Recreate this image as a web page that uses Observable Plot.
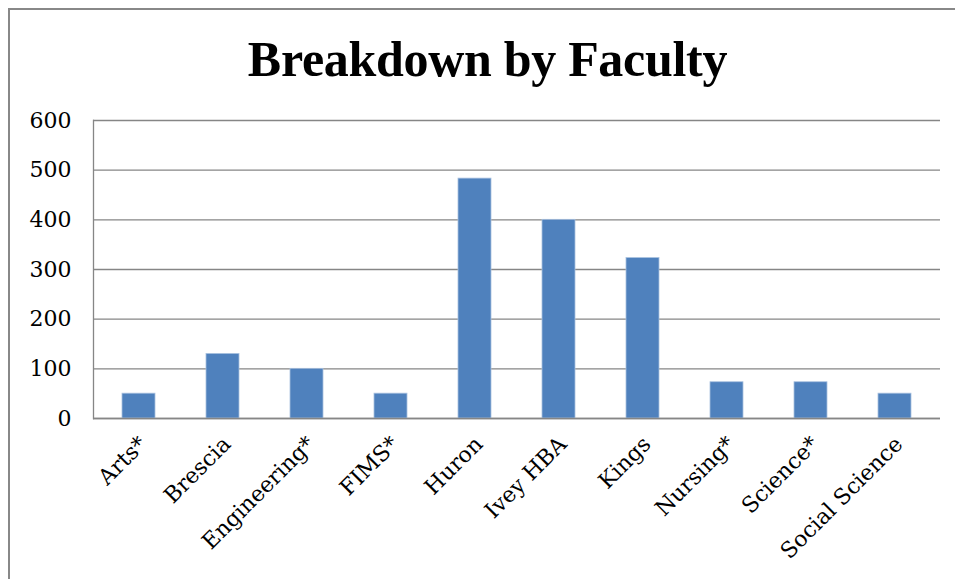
<!DOCTYPE html>
<html>
<head>
<meta charset="utf-8">
<script src="https://cdn.jsdelivr.net/npm/d3@7"></script>
<script src="https://cdn.jsdelivr.net/npm/@observablehq/plot@0.6"></script>
<style>
  html, body { margin: 0; padding: 0; background: #fff; }
  #chart {
    position: relative; width: 955px; height: 579px; overflow: hidden;
    background: #fff;
  }
  #border {
    position: absolute; left: 8px; top: 8px; width: 960px; height: 600px;
    border-left: 2px solid #888; border-top: 2px solid #888; box-sizing: border-box;
  }
  #title {
    position: relative; height: 100px; width: 955px; text-align: center;
    font-family: "Liberation Serif", serif; font-weight: bold; font-size: 50px;
    color: #000; padding-left: 20px; box-sizing: border-box;
    padding-top: 16px; line-height: 86px; letter-spacing: -0.3px;
  }
  #plot { position: relative; }
</style>
</head>
<body>
<div id="chart">
  <div id="border"></div>
  <div id="title">Breakdown by Faculty</div>
  <div id="plot"></div>
</div>
<script>
const categories = ["Arts*", "Brescia", "Engineering*", "FIMS*", "Huron", "Ivey HBA", "Kings", "Nursing*", "Science*", "Social Science"];
const counts = [50, 130, 100, 50, 483, 400, 323, 73, 73, 50];
const yTicks = [0, 100, 200, 300, 400, 500, 600];

const data = categories.map((c, i) => ({faculty: c, count: counts[i]}));

const plot = Plot.plot({
  width: 955,
  height: 479,
  marginTop: 20,
  marginBottom: 161,
  marginLeft: 93,
  marginRight: 15,
  style: {fontFamily: "DejaVu Serif, serif", fontSize: "21px", color: "#000", background: "transparent"},
  x: {domain: categories, paddingInner: 0.61, paddingOuter: 0.305, align: 0.5, label: null},
  y: {domain: [0, 600], label: null},
  marks: [
    Plot.gridY(yTicks, {stroke: "#868686", strokeOpacity: 1, strokeWidth: 1.3}),
    Plot.frame({anchor: "left", stroke: "#868686", strokeWidth: 1.3}),
    Plot.barY(data, {x: "faculty", y: "count", fill: "#4f81bd", stroke: "#a9c1df", strokeWidth: 0.8}),
    Plot.ruleY([0], {stroke: "#868686", strokeWidth: 1.3}),
    Plot.axisY(yTicks, {tickSize: 0, tickPadding: 22, fontSize: 22, label: null}),
    Plot.axisX({tickSize: 0, tickPadding: 22, dx: 4, tickRotate: -45, fontSize: 22, label: null})
  ]
});
document.getElementById("plot").appendChild(plot);
</script>
</body>
</html>
